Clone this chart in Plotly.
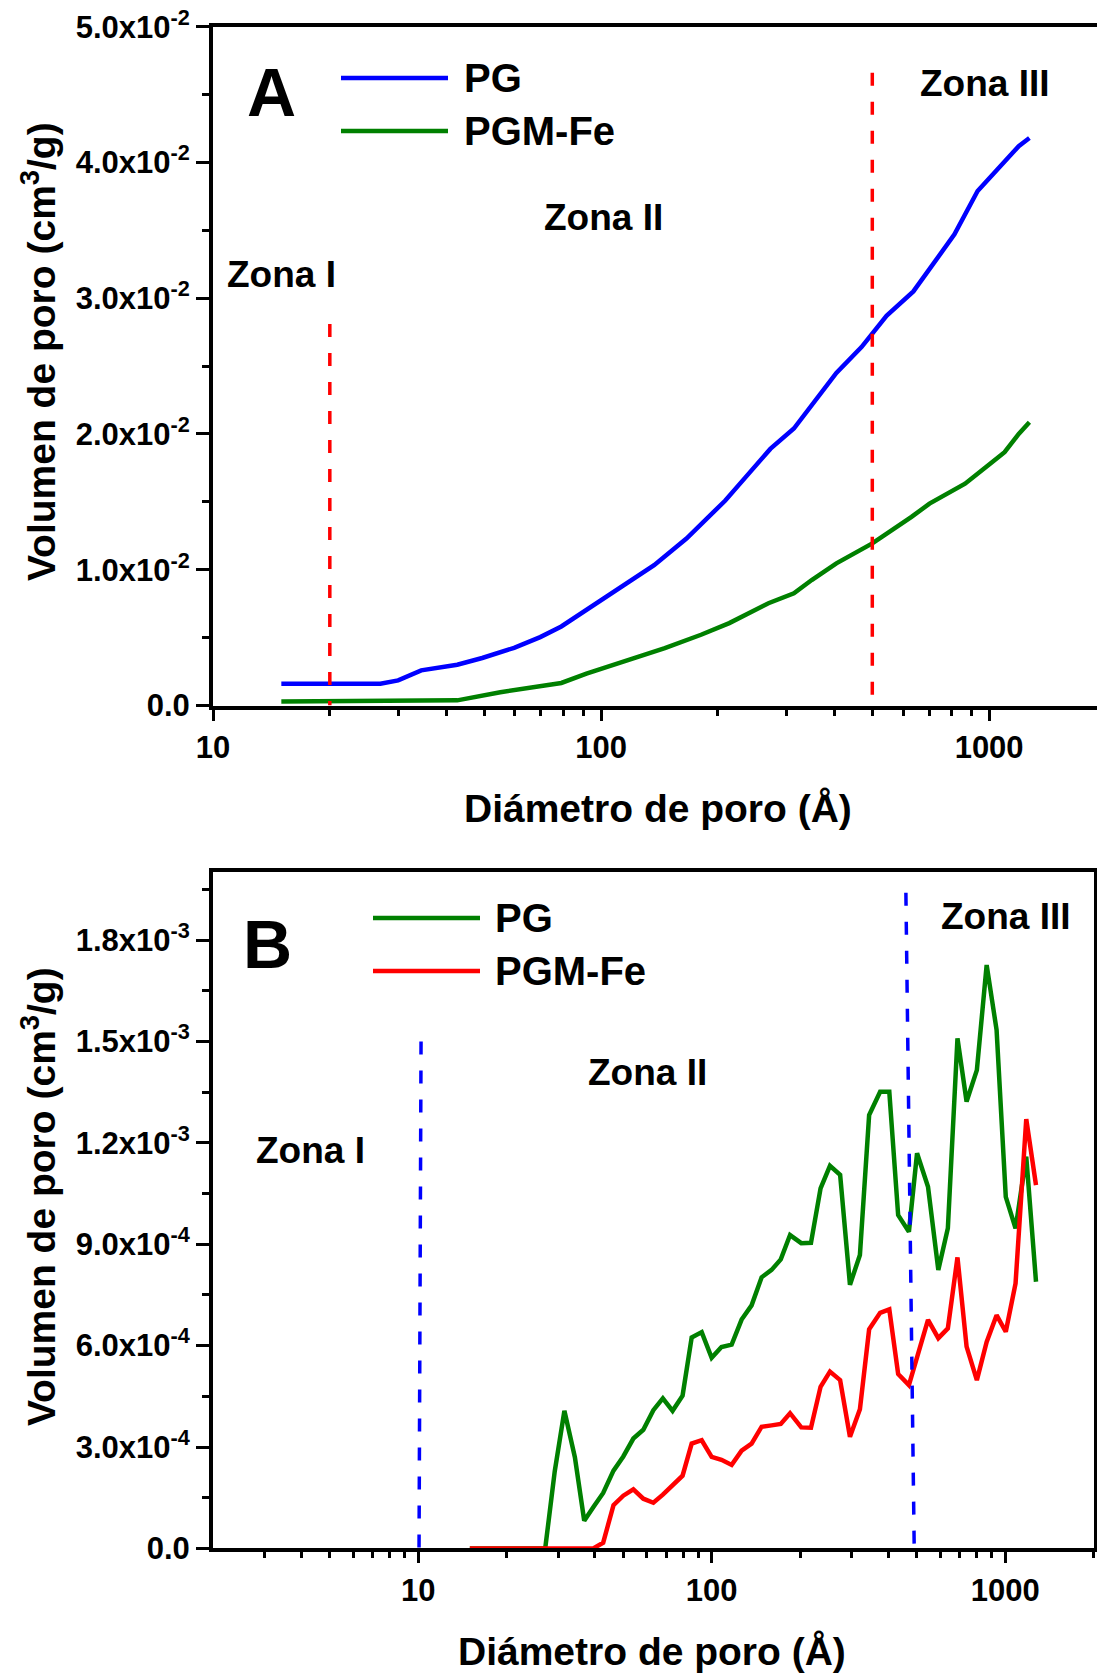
import plotly.graph_objects as go

# ---------------- Data ----------------
# Panel A: cumulative pore volume (cm3/g) vs pore diameter (Å)
diam_a = [15, 27, 30, 34.4, 42.6, 49.4, 59.7, 69.7, 79, 91.7, 98.8, 115.8, 137, 166,
          209, 238, 273, 314, 356, 404, 469, 544, 638, 702, 814, 934, 1096, 1192, 1270]
pg_a = [0.00161, 0.00161, 0.00185, 0.00259, 0.0030, 0.0035, 0.00425, 0.00504, 0.00582,
        0.00704, 0.00765, 0.00888, 0.01034, 0.0123, 0.0151, 0.01695, 0.0189, 0.0204,
        0.02245, 0.0245, 0.0264, 0.0287, 0.0305, 0.0322, 0.0347, 0.0379, 0.0401,
        0.0412, 0.0418]
diam_a2 = [15, 29, 33, 42.6, 55, 67.9, 79, 91.7, 115.8, 146, 181, 214, 270, 314, 349,
           404, 500, 556, 631, 702, 796, 867, 1006, 1096, 1192, 1270]
pgmfe_a = [0.0003, 0.0003, 0.00038, 0.00038, 0.00098, 0.00137, 0.00166, 0.00235, 0.00325,
           0.00423, 0.00521, 0.00607, 0.00753, 0.00827, 0.00924, 0.01047, 0.01194,
           0.01279, 0.01389, 0.01487, 0.01572, 0.01634, 0.0178, 0.01866, 0.0200, 0.02086]

# Panel B: incremental pore volume (cm3/g) vs pore diameter (Å)
diam_b = [15, 27.1, 29.2, 31.5, 34.2, 36.8, 39.5, 42.7, 46.3, 50, 54.1, 58.5, 63.3, 68.2,
          73.6, 79.6, 85.5, 92.5, 100, 108, 117, 126.5, 136.8, 148, 160, 172, 185, 202,
          218, 235, 253, 274, 296, 320, 344, 375, 403, 432, 470, 501, 546, 592, 638, 688,
          739, 801, 865, 935, 1005, 1085, 1180, 1274]
pg_b = [0, 0, 0.000228, 0.000407, 0.00027, 0.000082, 0.000122, 0.000164, 0.00023, 0.000272,
        0.000325, 0.000351, 0.000409, 0.000444, 0.000407, 0.000452, 0.000624, 0.00064,
        0.000564, 0.000596, 0.000603, 0.000677, 0.000719, 0.000802, 0.000824, 0.000855,
        0.000927, 0.000903, 0.000904, 0.001065, 0.001132, 0.001105, 0.00078, 0.000868,
        0.001282, 0.001351, 0.001351, 0.000986, 0.000937, 0.001169, 0.00107, 0.000824,
        0.000947, 0.001509, 0.001322, 0.001415, 0.001726, 0.001534, 0.00104, 0.000947,
        0.001159, 0.000789]
pgmfe_b = [0, 0, 0, 0, 0, 0, 0, 0.000017, 0.000128, 0.000156, 0.000175, 0.000147, 0.000135,
           0.000159, 0.000185, 0.000215, 0.00031, 0.00032, 0.000271, 0.000262, 0.000247,
           0.000289, 0.00031, 0.00036, 0.000364, 0.000368, 0.0004, 0.000358, 0.000357,
           0.000478, 0.000523, 0.000498, 0.00033, 0.000412, 0.000648, 0.000697, 0.000707,
           0.000516, 0.000483, 0.000569, 0.000676, 0.000622, 0.000651, 0.000861, 0.000597,
           0.000498, 0.000611, 0.00069, 0.000641, 0.000784, 0.00127, 0.001075]

# Zone boundary lines (x in Å, y in cm3/g)
zone_a_x = [20, 500]
zone_a_top = [0.0281, 0.0466]
zone_b_x_top = [10.23, 459]
zone_b_x_bot = [10.07, 490]
zone_b_top = [0.0015, 0.00194]

# Tick labels
ytick_a_vals = [0, 0.01, 0.02, 0.03, 0.04, 0.05]
ytick_a_text = ["0.0", "1.0x10<sup>-2</sup>", "2.0x10<sup>-2</sup>", "3.0x10<sup>-2</sup>",
                "4.0x10<sup>-2</sup>", "5.0x10<sup>-2</sup>"]
ytick_b_vals = [0, 0.0003, 0.0006, 0.0009, 0.0012, 0.0015, 0.0018]
ytick_b_text = ["0.0", "3.0x10<sup>-4</sup>", "6.0x10<sup>-4</sup>", "9.0x10<sup>-4</sup>",
                "1.2x10<sup>-3</sup>", "1.5x10<sup>-3</sup>", "1.8x10<sup>-3</sup>"]
xtick_vals = [10, 100, 1000]
xtick_text = ["10", "100", "1000"]

# ---------------- Layout helpers ----------------
W, H = 1097, 1674
FONT = "Liberation Sans"


def px(x):
    return x / W


def py(y):
    return 1 - y / H


BLUE, GREEN, RED = "#0000FF", "#008000", "#FF0000"
LW = 4.5

fig = go.Figure()
fig.add_trace(go.Scatter(x=diam_a, y=pg_a, mode="lines", line=dict(color=BLUE, width=LW),
                         name="PG", xaxis="x", yaxis="y", showlegend=False))
fig.add_trace(go.Scatter(x=diam_a2, y=pgmfe_a, mode="lines", line=dict(color=GREEN, width=LW),
                         name="PGM-Fe", xaxis="x", yaxis="y", showlegend=False))
fig.add_trace(go.Scatter(x=diam_b, y=pg_b, mode="lines", line=dict(color=GREEN, width=LW),
                         name="PG", xaxis="x2", yaxis="y2", showlegend=False))
fig.add_trace(go.Scatter(x=diam_b, y=pgmfe_b, mode="lines", line=dict(color=RED, width=LW),
                         name="PGM-Fe", xaxis="x2", yaxis="y2", showlegend=False))

tickfont = dict(family=FONT, size=31, color="black", weight="bold")

minor_x_a = [v * m for m in (10, 100) for v in range(2, 10)]
minor_x_b = [v for v in range(3, 10)] + [v * m for m in (10, 100) for v in range(2, 10)] + [2000]
minor_y_a = [0.005, 0.015, 0.025, 0.035, 0.045]
minor_y_b = [0.00015, 0.00045, 0.00075, 0.00105, 0.00135, 0.00165, 0.00195]

common_axis = dict(showline=True, linecolor="black", linewidth=4, ticks="outside",
                   tickwidth=3, tickcolor="black", showgrid=False, zeroline=False,
                   tickfont=tickfont, automargin=False)

fig.update_layout(
    width=W, height=H,
    margin=dict(l=0, r=0, t=0, b=0),
    paper_bgcolor="white", plot_bgcolor="white",
    showlegend=False,
    xaxis=dict(type="log", domain=[px(213), 1.0], range=[1, 3.278], anchor="y",
               tickmode="array", tickvals=xtick_vals, ticktext=xtick_text, ticklen=11,
               mirror=True,
               minor=dict(tickmode="array", tickvals=minor_x_a, ticklen=6, tickwidth=3,
                          ticks="outside", tickcolor="black", showgrid=False),
               **common_axis),
    yaxis=dict(domain=[py(705.5), py(26.7)], range=[0, 0.05], anchor="x",
               tickmode="array", tickvals=ytick_a_vals, ticktext=ytick_a_text, ticklen=13,
               mirror=False,
               minor=dict(tickmode="array", tickvals=minor_y_a, ticklen=7, tickwidth=3,
                          ticks="outside", tickcolor="black", showgrid=False),
               **common_axis),
    xaxis2=dict(type="log", domain=[px(213), px(1093.5)], range=[0.30103, 3.30103],
                anchor="y2", tickmode="array", tickvals=xtick_vals, ticktext=xtick_text,
                ticklen=11, mirror=True,
                minor=dict(tickmode="array", tickvals=minor_x_b, ticklen=6, tickwidth=3,
                           ticks="outside", tickcolor="black", showgrid=False),
                **common_axis),
    yaxis2=dict(domain=[py(1548.4), py(872.4)], range=[0, 0.002], anchor="x2",
                tickmode="array", tickvals=ytick_b_vals, ticktext=ytick_b_text, ticklen=13,
                mirror=True,
                minor=dict(tickmode="array", tickvals=minor_y_b, ticklen=7, tickwidth=3,
                           ticks="outside", tickcolor="black", showgrid=False),
                **common_axis),
)

shapes = []
# zone boundaries
for xv, yt in zip(zone_a_x, zone_a_top):
    shapes.append(dict(type="line", xref="x", yref="y", x0=xv, x1=xv, y0=yt, y1=0,
                       line=dict(color=RED, width=3.5, dash="13px,16px")))
for xt, xb, yt in zip(zone_b_x_top, zone_b_x_bot, zone_b_top):
    shapes.append(dict(type="line", xref="x2", yref="y2", x0=xt, x1=xb, y0=yt, y1=0,
                       line=dict(color=BLUE, width=3.5, dash="13px,16px")))
# manual legends
legend_items = [
    (341, 448, 78, BLUE, "PG", 462),
    (341, 448, 131, GREEN, "PGM-Fe", 462),
    (373, 480, 918, GREEN, "PG", 493),
    (373, 480, 971, RED, "PGM-Fe", 493),
]
annotations = []
for x0, x1, yy, col, label, tx in legend_items:
    shapes.append(dict(type="line", xref="paper", yref="paper", x0=px(x0), x1=px(x1),
                       y0=py(yy), y1=py(yy), line=dict(color=col, width=LW)))
    annotations.append(dict(text=label, x=px(tx), y=py(yy), xref="paper", yref="paper",
                            xanchor="left", yanchor="middle", showarrow=False,
                            font=dict(family=FONT, size=40, color="black", weight="bold")))

texts = [
    ("A", 271, 92, 68),
    ("B", 267, 944, 68),
    ("Zona I", 281, 275, 37),
    ("Zona II", 603, 218, 37),
    ("Zona III", 985, 83, 37),
    ("Zona I", 310, 1150, 37),
    ("Zona II", 647, 1072, 37),
    ("Zona III", 1006, 916, 37),
]
for t, x, y, s in texts:
    annotations.append(dict(text=t, x=px(x), y=py(y), xref="paper", yref="paper",
                            xanchor="center", yanchor="middle", showarrow=False,
                            font=dict(family=FONT, size=s, color="black", weight="bold")))

# axis titles
title_font = dict(family=FONT, size=39, color="black", weight="bold")
ytitle = "Volumen de poro (cm<sup>3</sup>/g)"
xtitle = "Diámetro de poro (Å)"
annotations += [
    dict(text=ytitle, x=px(38), y=py(352), textangle=-90, xref="paper", yref="paper",
         xanchor="center", yanchor="middle", showarrow=False, font=title_font),
    dict(text=ytitle, x=px(38), y=py(1197), textangle=-90, xref="paper", yref="paper",
         xanchor="center", yanchor="middle", showarrow=False, font=title_font),
    dict(text=xtitle, x=px(658), y=py(808), xref="paper", yref="paper",
         xanchor="center", yanchor="middle", showarrow=False, font=title_font),
    dict(text=xtitle, x=px(652), y=py(1651), xref="paper", yref="paper",
         xanchor="center", yanchor="middle", showarrow=False, font=title_font),
]

fig.update_layout(shapes=shapes, annotations=annotations)
fig.write_html("out.html")
